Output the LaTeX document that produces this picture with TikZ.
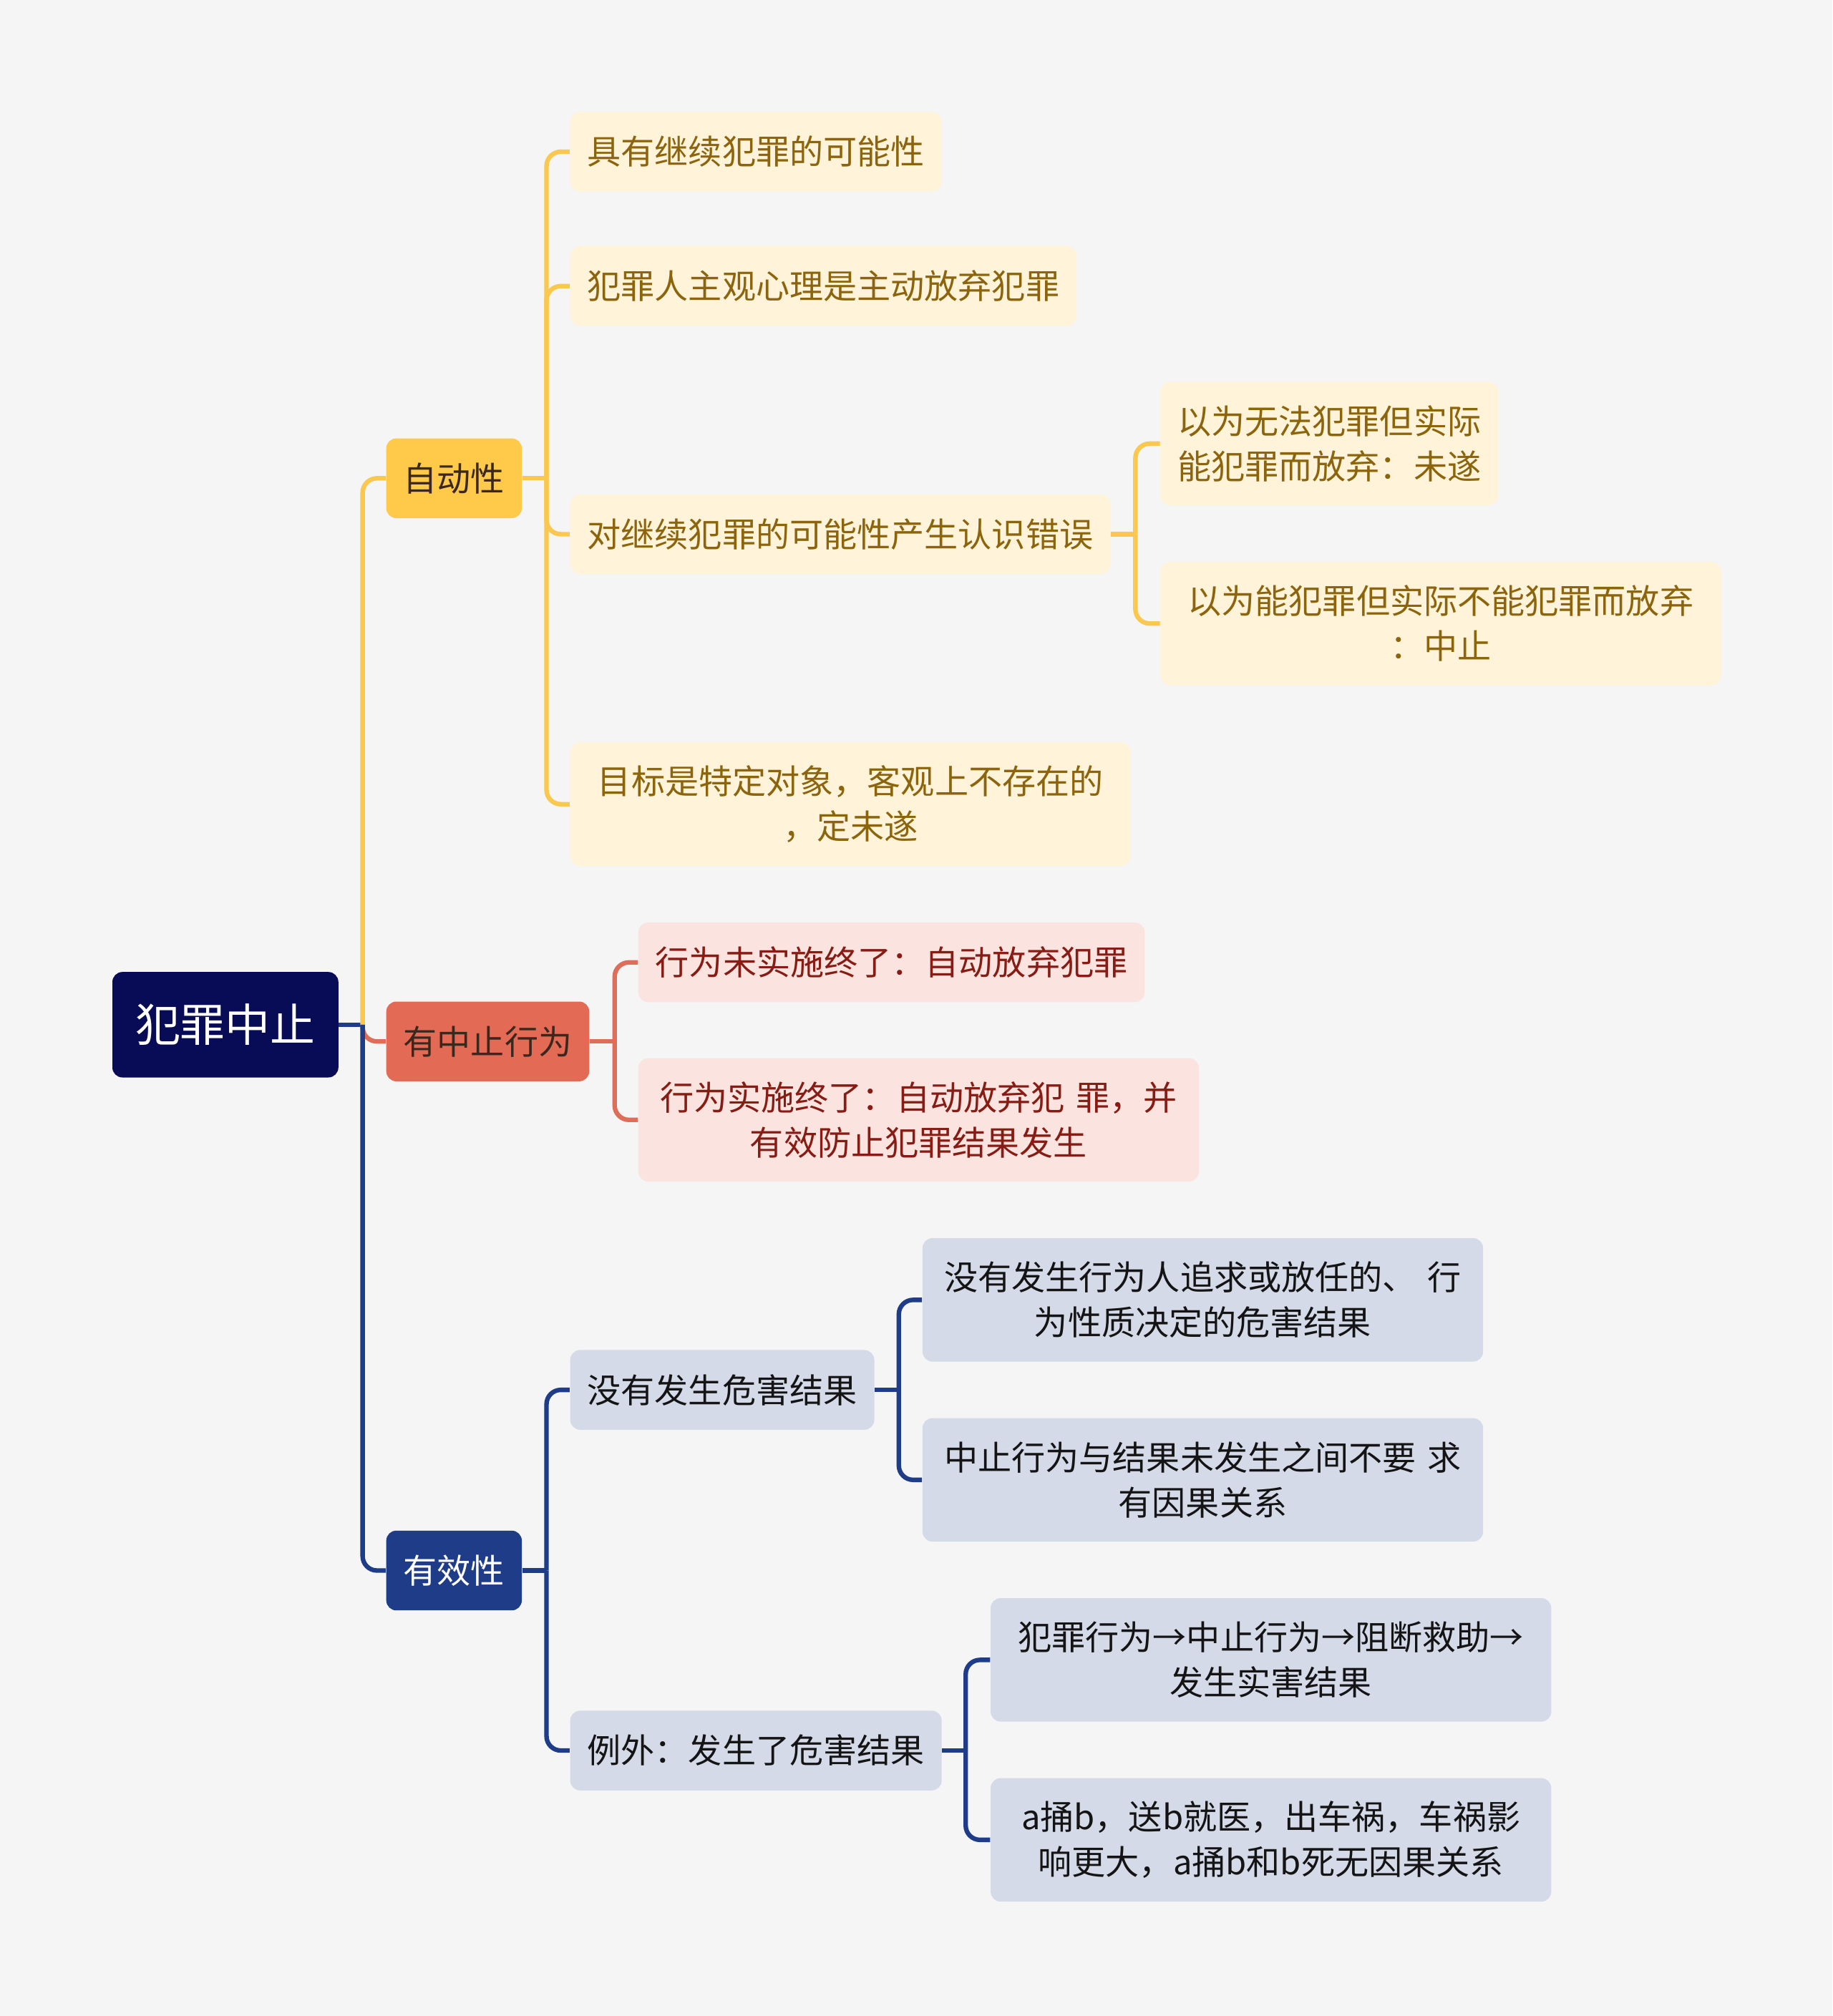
\documentclass[tikz,border=0pt]{standalone}
\usepackage{fontspec}
\setmainfont{Noto Sans CJK SC}
\usepackage{tikz}
\usetikzlibrary{positioning}
\definecolor{bg}{RGB}{245,245,245}
\definecolor{navy}{RGB}{8,12,86}
\definecolor{ink}{RGB}{58,40,30}
\definecolor{ydark}{RGB}{255,201,74}
\definecolor{yline}{RGB}{250,200,78}
\definecolor{ylight}{RGB}{255,243,217}
\definecolor{ytext}{RGB}{140,100,12}
\definecolor{rdark}{RGB}{227,107,86}
\definecolor{rline}{RGB}{222,110,90}
\definecolor{rlight}{RGB}{251,228,224}
\definecolor{rtext}{RGB}{135,28,20}
\definecolor{bdark}{RGB}{31,60,136}
\definecolor{bline}{RGB}{30,60,136}
\definecolor{blight}{RGB}{213,218,232}
\definecolor{btext}{RGB}{20,20,20}

\begin{document}
\begin{tikzpicture}[x=.017965cm,y=-.017965cm,
  box/.style={rounded corners=.14cm,inner xsep=.24cm,inner ysep=0pt,minimum height=1.114cm,
    font=\fontsize{13.4}{17.9}\selectfont,align=center,anchor=west},
  tall/.style={minimum height=1.725cm},
  two/.style={tall,text width=7.35cm},
  rootbox/.style={box,fill=navy,text=white,inner xsep=.32cm,minimum height=1.473cm,
    font=\fontsize{17.9}{22}\selectfont},
  ybox/.style={box,fill=ylight,text=ytext},
  rbox/.style={box,fill=rlight,text=rtext},
  bbox/.style={box,fill=blight,text=btext},
  link/.style={line width=1.8pt,rounded corners=.2cm}]
\fill[bg] (0,0) rectangle (1425,1568);

% centre and first level
\node[rootbox] (root) at (87,797) {犯罪中止};
\node[box,fill=ydark,text=ink] (zdx) at (300,372) {自动性};
\node[box,fill=rdark,text=ink] (zzxw) at (300,810) {有中止行为};
\node[box,fill=bdark,text=white] (yxx) at (300,1221.5) {有效性};

% 自动性
\node[ybox] (y1) at (443,118) {具有继续犯罪的可能性};
\node[ybox] (y2) at (443,222.5) {犯罪人主观心理是主动放弃犯罪};
\node[ybox] (y3) at (443,415.5) {对继续犯罪的可能性产生认识错误};
\node[ybox,two] (y4) at (443,625.5) {目标是特定对象，客观上不存在的\\，定未遂};
\node[ybox,tall] (y31) at (902,345) {以为无法犯罪但实际\\能犯罪而放弃：未遂};
\node[ybox,two] (y32) at (902,485) {以为能犯罪但实际不能犯罪而放弃\\：中止};

% 有中止行为
\node[rbox] (r1) at (496,748.5) {行为未实施终了：自动放弃犯罪};
\node[rbox,two] (r2) at (496,871) {行为实施终了：自动放弃犯\ 罪，并\\有效防止犯罪结果发生};

% 有效性
\node[bbox] (b1) at (443,1081) {没有发生危害结果};
\node[bbox] (b2) at (443,1361.5) {例外：发生了危害结果};
\node[bbox,two] (b11) at (717,1011) {没有发生行为人追求或放任的、\ 行\\为性质决定的危害结果};
\node[bbox,two] (b12) at (717,1151) {中止行为与结果未发生之间不要\ 求\\有因果关系};
\node[bbox,two] (b21) at (770,1291) {犯罪行为→中止行为→阻断救助→\\发生实害结果};
\node[bbox,two] (b22) at (770,1431) {a捅b，送b就医，出车祸，车祸影\\响更大，a捅b和b死无因果关系};

% connectors
\coordinate (t0) at (282,797);
\draw[link,bline] (root.east) -- (t0);
\draw[link,yline] (t0) |- (zdx.west);
\draw[link,rline] (t0) |- (zzxw.west);
\draw[link,bline] (t0) |- (yxx.west);

\coordinate (t1) at (425,372);
\draw[link,yline] (zdx.east) -- (t1);
\foreach \n in {y1,y2,y3,y4} \draw[link,yline] (t1) |- (\n.west);
\coordinate (t2) at (883,415.5);
\draw[link,yline] (y3.east) -- (t2);
\foreach \n in {y31,y32} \draw[link,yline] (t2) |- (\n.west);

\coordinate (t3) at (478,810);
\draw[link,rline] (zzxw.east) -- (t3);
\foreach \n in {r1,r2} \draw[link,rline] (t3) |- (\n.west);

\coordinate (t4) at (425,1221.5);
\draw[link,bline] (yxx.east) -- (t4);
\foreach \n in {b1,b2} \draw[link,bline] (t4) |- (\n.west);
\coordinate (t5) at (699,1081);
\draw[link,bline] (b1.east) -- (t5);
\foreach \n in {b11,b12} \draw[link,bline] (t5) |- (\n.west);
\coordinate (t6) at (751,1361.5);
\draw[link,bline] (b2.east) -- (t6);
\foreach \n in {b21,b22} \draw[link,bline] (t6) |- (\n.west);
\end{tikzpicture}
\end{document}
